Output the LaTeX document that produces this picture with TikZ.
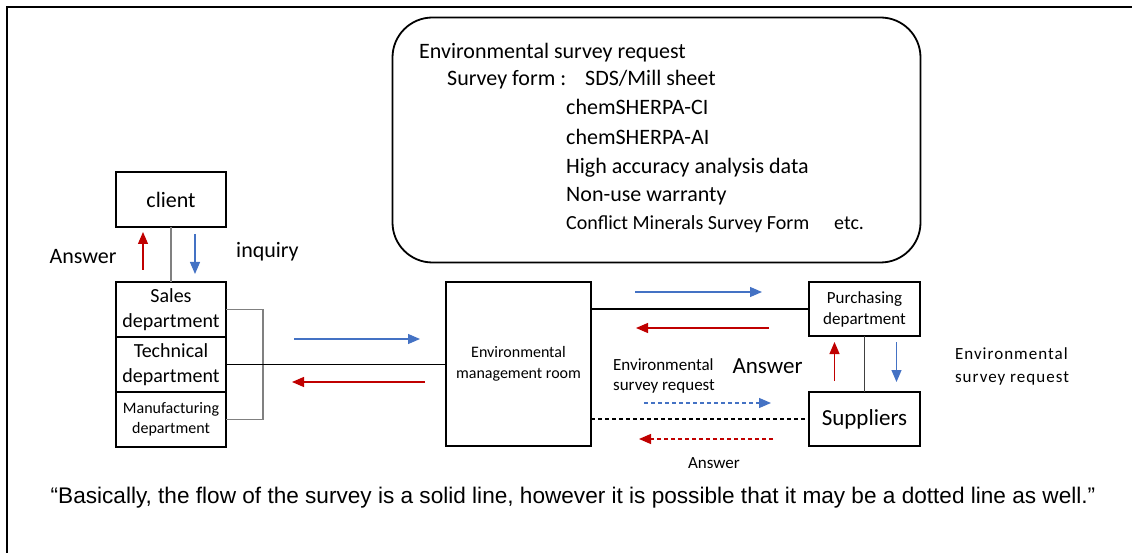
\documentclass[tikz,border=0pt]{standalone}
\usepackage{fontspec}
\setmainfont{Carlito}
\newfontfamily\notefont{Liberation Sans}
\newfontfamily\widefont[LetterSpace=6]{Carlito}
\usetikzlibrary{positioning, arrows.meta}
\definecolor{reqblue}{HTML}{4472C4}
\definecolor{ansred}{HTML}{C00000}
\newcommand{\fsz}[2]{\fontsize{#1}{#2}\selectfont}

\begin{document}
\begin{tikzpicture}[x=1pt, y=-1pt, >={Triangle[length=12pt, width=10pt]},
    font=\fsz{22}{26},
    box/.style={draw, line width=2.5pt, align=center, inner sep=0pt, outer sep=0pt,
                minimum width=110pt, minimum height=55pt},
    txt/.style={inner sep=0pt, align=left},
    ask/.style={->, reqblue, line width=1.2pt},
    reply/.style={->, ansred, line width=1.2pt}]
    \useasboundingbox (0,0) rectangle (1132,553);

    % Frame
    \draw[line width=2.2pt] (7,553) -- (7,7) -- (1132,7);

    % Survey forms
    \node[draw, line width=1.8pt, rounded corners=40pt, minimum width=528pt, minimum height=245pt] (forms) at (656.5,140) {};
    \node[txt, anchor=base west] (req) at (419,59) {Environmental survey request};
    \node[txt, anchor=base west] (form) at (447,86) {Survey form\hspace{5pt}:\hspace{19pt}SDS/Mill sheet};
    \foreach \i/\yy/\t in {1/115/chemSHERPA-CI, 2/145/chemSHERPA-AI, 3/174/High accuracy analysis data, 4/202/Non-use warranty}
        \node[txt, anchor=base west] (item\i) at (566,\yy) {\t};
    \node[txt, anchor=base west, font=\fsz{20}{22}] (item5) at (566,230) {Conflict Minerals Survey Form};
    \node[txt, anchor=base west, font=\fsz{20}{22}] (etc) at (834,230) {etc.};

    % Nodes
    \node[box] (client) at (171,199.5) {client};
    \node[box, font=\fsz{20}{25}] (sales) at (171,309.5) {Sales\\department};
    \node[box, font=\fsz{20}{25}, below=0pt of sales] (tech) {Technical\\department};
    \node[box, font=\fsz{16}{20}, below=0pt of tech] (manu) {Manufacturing\\department};
    \node[box, font=\fsz{16}{21}, minimum width=145pt, minimum height=164pt] (envroom) at (518.5,364) {Environmental\\management room};
    \node[box, font=\fsz{17}{21}, minimum width=111pt, minimum height=54pt] (purch) at (864.5,309) {Purchasing\\department};
    \node[box, font=\fsz{23}{26}, minimum width=111pt, minimum height=54pt, below=56pt of purch] (supp) {Suppliers};

    % Labels
    \node[txt] (ans1) at (83,257) {Answer};
    \node[txt] (inq) at (267.5,252) {inquiry};
    \node[txt, font=\fsz{23}{26}] (ans2) at (767.5,366) {Answer};
    \node[txt, font=\fsz{17}{20}] (req2) at (664,376) {Environmental\\survey request};
    \node[txt, font=\widefont\fsz{17}{23}] (req3) at (1012,366) {Environmental\\survey request};
    \node[txt, font=\fsz{17}{20}] (ans3) at (714,463) {Answer};
    \node[txt, font=\notefont\fsz{22.6}{26}] (note) at (573,498) {“Basically, the flow of the survey is a solid line, however it is possible that it may be a dotted line as well.”};

    % Connections
    \draw[gray, line width=1.5pt] (client) -- (sales);
    \draw[reply] ([xshift=-28pt, yshift=12pt]sales.north) -- ([xshift=-28pt, yshift=-5pt]client.south);
    \draw[ask] ([xshift=24pt, yshift=-7pt]client.south) -- ([xshift=24pt, yshift=8pt]sales.north);
    \draw[gray, line width=1.5pt] (sales.east) -| ([xshift=37pt]manu.east) -- (manu.east);
    \draw[line width=1.2pt] (tech.east) -- (tech.east -| envroom.west);
    \draw[ask] ([shift={(-152pt,25pt)}]envroom.west) -- ([shift={(-26pt,25pt)}]envroom.west);
    \draw[reply] ([shift={(-21pt,-18pt)}]envroom.west) -- ([shift={(-154pt,-18pt)}]envroom.west);

    \draw[line width=1.2pt] (purch.west -| envroom.east) -- (purch.west);
    \draw[ask] ([shift={(-174pt,17pt)}]purch.west) -- ([shift={(-47pt,17pt)}]purch.west);
    \draw[reply] ([shift={(-40pt,-19pt)}]purch.west) -- ([shift={(-173pt,-19pt)}]purch.west);
    \draw[line width=1.2pt, dash pattern=on 4pt off 3pt] (supp.west -| envroom.east) -- (supp.west);
    \draw[ask, dash pattern=on 4pt off 3pt] ([shift={(-165pt,16pt)}]supp.west) -- ([shift={(-38pt,16pt)}]supp.west);
    \draw[reply, dash pattern=on 4pt off 3pt] ([shift={(-36pt,-20pt)}]supp.west) -- ([shift={(-170pt,-20pt)}]supp.west);

    \draw[black!75, line width=1.3pt] (purch) -- (supp);
    \draw[reply] ([shift={(-30pt,11pt)}]supp.north) -- ([shift={(-30pt,-6pt)}]purch.south);
    \draw[ask] ([shift={(32pt,-6pt)}]purch.south) -- ([shift={(32pt,10pt)}]supp.north);
\end{tikzpicture}
\end{document}
